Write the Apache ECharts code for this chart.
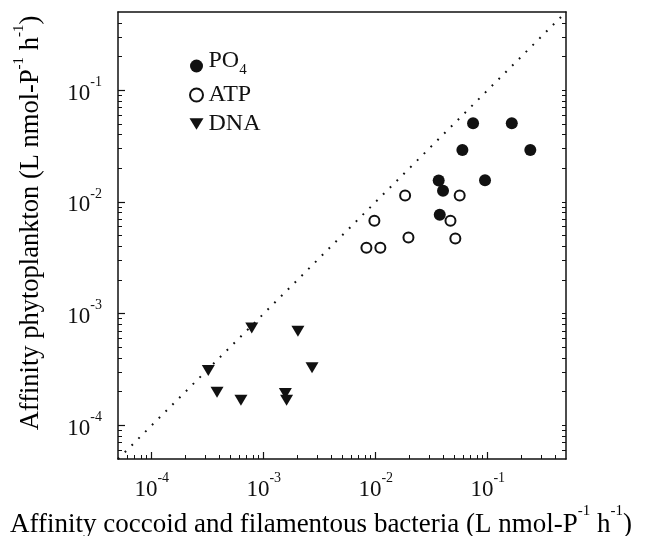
<!DOCTYPE html>
<html>
<head>
<meta charset="utf-8">
<script src="https://cdn.jsdelivr.net/npm/echarts@6/dist/echarts.min.js"></script>
<style>
  html, body { margin: 0; background: #fff; }
  #chart { width: 645px; height: 536px; }
</style>
</head>
<body>
<div id="chart"></div>
<script>
// affinity of bacteria (x) vs phytoplankton (y), L nmol-P-1 h-1
const po4X = [0.0365, 0.0373, 0.0399, 0.0594, 0.074, 0.0946, 0.164, 0.240];
const po4Y = [0.0155, 0.00766, 0.0126, 0.0291, 0.0505, 0.0156, 0.0505, 0.0291];
const atpX = [0.00826, 0.0110, 0.00973, 0.0183, 0.0196, 0.0465, 0.0514, 0.0562];
const atpY = [0.00388, 0.00388, 0.00676, 0.0114, 0.0048, 0.00676, 0.0047, 0.0114];
const dnaX = [0.00032, 0.000383, 0.000626, 0.000782, 0.00156, 0.0016, 0.00202, 0.0027];
const dnaY = [0.00031, 0.000198, 0.000168, 0.000745, 0.000193, 0.000168, 0.000695, 0.000327];
const seriesNames = ["PO4", "ATP", "DNA"];
const axisMin = 5e-5;
const axisMax = 0.5;
const majorTicks = [1e-4, 1e-3, 1e-2, 1e-1];

// minor ticks at 2..9 x 10^n inside the axis range
const minorTicks = [];
for (let e = -5; e <= -1; e++) {
  for (let k = 2; k <= 9; k++) {
    const v = k * Math.pow(10, e);
    if (v > axisMin * 1.0001 && v < axisMax * 0.9999) minorTicks.push(v);
  }
}
const log10 = (v) => Math.log10(v);
const zip = (xs, ys) => xs.map((x, i) => [x, ys[i]]);

const ink = "#111";
const serif = "Liberation Serif";
const tickRich = {
  b: { fontFamily: serif, fontSize: 23, color: ink, lineHeight: 30, verticalAlign: "bottom" },
  s: { fontFamily: serif, fontSize: 14, color: ink, lineHeight: 14, verticalAlign: "top" },
};
function titleRich(size) {
  return {
    b: { fontFamily: serif, fontSize: size, color: ink, lineHeight: size + 7, verticalAlign: "bottom" },
    s: { fontFamily: serif, fontSize: 15, color: ink, lineHeight: 15, verticalAlign: "top" },
  };
}

function powerLabel(v) {
  const e = Math.log10(v);
  if (Math.abs(e - Math.round(e)) > 1e-6) return "";
  return "{b|10}{s|" + Math.round(e) + "}";
}

const chart = echarts.init(document.getElementById("chart"));

const logAxisBase = {
  type: "log",
  logBase: 10,
  min: axisMin,
  max: axisMax,
  axisLine: { lineStyle: { color: ink, width: 1.5 } },
  axisTick: { inside: true, length: 7, lineStyle: { color: ink, width: 1.2 } },
  splitLine: { show: false },
  minorTick: { show: false },
};
const minorAxisBase = {
  type: "value",
  min: log10(axisMin),
  max: log10(axisMax),
  axisLine: { show: false },
  axisLabel: { show: false },
  splitLine: { show: false },
  axisTick: { inside: true, length: 4, customValues: minorTicks.map(log10), lineStyle: { color: ink, width: 1 } },
};

const option = {
  animation: false,
  backgroundColor: "#fff",
  grid: { left: 118, top: 12, width: 448, height: 447 },
  legend: {
    data: seriesNames,
    orient: "vertical",
    left: 184,
    top: 44,
    itemGap: 5,
    itemWidth: 14,
    itemHeight: 13,
    formatter: (name) => (name === "PO4" ? "{b|PO}{sub|4}" : "{n|" + name + "}"),
    textStyle: {
      rich: {
        b: { fontFamily: serif, fontSize: 24, color: ink, lineHeight: 24, padding: [0, 0, 5, 0], verticalAlign: "bottom" },
        sub: { fontFamily: serif, fontSize: 15, color: ink, lineHeight: 15, verticalAlign: "bottom" },
        n: { fontFamily: serif, fontSize: 24, color: ink, lineHeight: 29 },
      },
    },
  },
  xAxis: [
    Object.assign({}, logAxisBase, {
      position: "bottom",
      axisLabel: { margin: 12, formatter: powerLabel, rich: tickRich, showMinLabel: false, showMaxLabel: false },
    }),
    Object.assign({}, minorAxisBase, { position: "bottom" }),
    {
      type: "value", position: "top", min: 0, max: 1,
      axisLine: { lineStyle: { color: ink, width: 1.5 } },
      axisTick: { show: false }, axisLabel: { show: false }, splitLine: { show: false },
    },
  ],
  yAxis: [
    Object.assign({}, logAxisBase, {
      position: "left",
      axisLabel: { margin: 16, formatter: powerLabel, rich: tickRich, showMinLabel: false, showMaxLabel: false },
    }),
    Object.assign({}, minorAxisBase, { position: "left" }),
    Object.assign({}, minorAxisBase, {
      position: "right",
      axisLine: { show: true, lineStyle: { color: ink, width: 1.5 } },
      axisTick: { inside: true, length: 4, customValues: minorTicks.concat(majorTicks).map(log10), lineStyle: { color: ink, width: 1 } },
    }),
  ],
  graphic: [
    {
      type: "text", x: 321, y: 521,
      style: {
        text: "{b|Affinity coccoid and filamentous bacteria (L nmol-P}{s|-1}{b| h}{s|-1}{b|)}",
        rich: titleRich(27), textAlign: "center", textVerticalAlign: "middle",
      },
    },
    {
      type: "text", x: 28, y: 223, rotation: Math.PI / 2,
      style: {
        text: "{b|Affinity phytoplankton (L nmol-P}{s|-1}{b| h}{s|-1}{b|)}",
        rich: titleRich(26.5), textAlign: "center", textVerticalAlign: "middle",
      },
    },
  ],
  series: [
    {
      name: "1:1",
      type: "line",
      data: [[axisMin, axisMin], [axisMax, axisMax]],
      showSymbol: false,
      silent: true,
      lineStyle: { color: ink, width: 2, type: [1.8, 7.8] },
      z: 1,
    },
    {
      name: "PO4",
      type: "scatter",
      data: zip(po4X, po4Y),
      symbol: "circle",
      symbolSize: 12,
      itemStyle: { color: ink, opacity: 1 },
    },
    {
      name: "ATP",
      type: "scatter",
      data: zip(atpX, atpY),
      symbol: "circle",
      symbolSize: 10,
      itemStyle: { color: "#fff", borderColor: ink, borderWidth: 2, opacity: 1 },
    },
    {
      name: "DNA",
      type: "scatter",
      data: zip(dnaX, dnaY),
      symbol: "path://M0,0 L12,0 L6,10 Z",
      symbolSize: [13, 11],
      itemStyle: { color: ink, opacity: 1 },
    },
  ],
};

chart.setOption(option);
</script>
</body>
</html>
